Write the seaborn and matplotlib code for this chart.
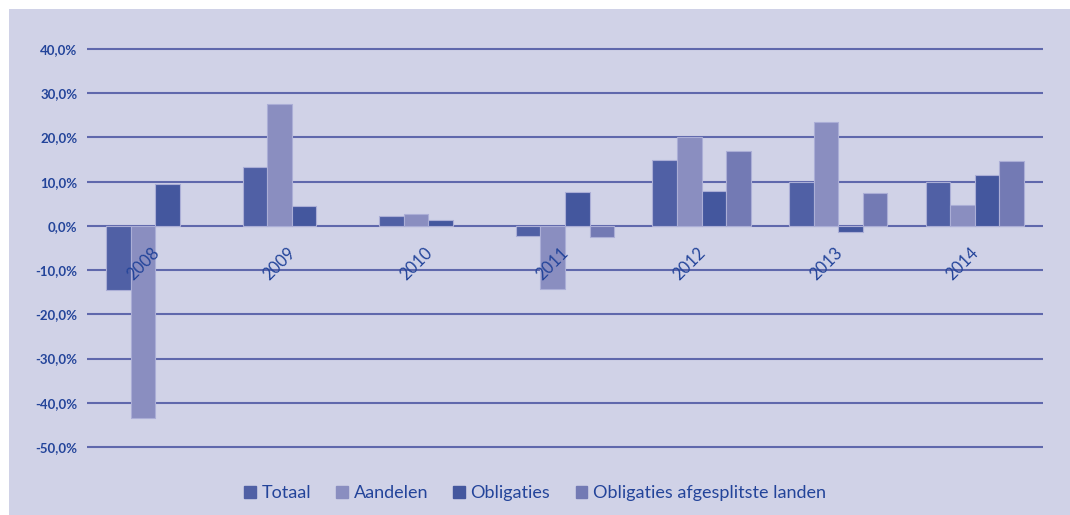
import matplotlib
matplotlib.use("Agg")
import matplotlib.pyplot as plt
import matplotlib.patches as mpatches
import numpy as np
import pandas as pd
import seaborn as sns

# --- Data (in %) ---
years = ["2008", "2009", "2010", "2011", "2012", "2013", "2014"]
series = ["Totaal", "Aandelen", "Obligaties", "Obligaties afgesplitste landen"]
totaal = [-14.4, 13.4, 2.3, -2.3, 15.0, 9.9, 9.9]
aandelen = [-43.4, 27.6, 2.7, -14.2, 20.0, 23.6, 4.7]
obligaties = [9.4, 4.5, 1.4, 7.6, 8.0, -1.3, 11.5]
obligaties_afg = [np.nan, np.nan, np.nan, -2.6, 16.9, 7.5, 14.6]

colors = ["#5060A5", "#8A8EC0", "#44579E", "#737AB4"]
panel = "#D0D2E7"
grid_col = "#5F68AC"
text_col = "#23449A"

df = pd.DataFrame({"Jaar": years, "Totaal": totaal, "Aandelen": aandelen,
                   "Obligaties": obligaties,
                   "Obligaties afgesplitste landen": obligaties_afg})
long_df = df.melt(id_vars="Jaar", var_name="Reeks", value_name="Rendement")

plt.rcParams["font.family"] = ["Lato", "DejaVu Sans"]

fig = plt.figure(figsize=(10.7, 5.15), dpi=100, facecolor="white")
# background panel
fig.add_artist(mpatches.Rectangle((9 / 1070, 0), 1 - 9 / 1070, 1 - 9 / 515,
                                  transform=fig.transFigure, facecolor=panel,
                                  linewidth=0, zorder=-10))
ax = fig.add_axes([87 / 1070, 0.1278, (1043 - 87) / 1070, 0.7813])
ax.set_zorder(1)
ax.set_facecolor(panel)

sns.barplot(data=long_df, x="Jaar", y="Rendement", hue="Reeks",
            hue_order=series, palette=colors, width=0.72, saturation=1,
            edgecolor="#ABAED6", linewidth=0.8, ax=ax, zorder=3)

ax.set_ylim(-50.5, 40.5)
ax.set_xlim(-0.5, len(years) - 0.5)
yt = np.arange(-50, 41, 10)
ax.set_yticks(yt)
ax.set_yticklabels([f"{v:.1f}%".replace(".", ",") for v in yt],
                   color=text_col, fontsize=9.5, fontweight="bold")
ax.tick_params(axis="y", length=0, pad=7)
for v in yt:
    ax.axhline(v, color=grid_col, lw=1.5, zorder=1)

ax.set_xticks([])
ax.set_xlabel("")
ax.set_ylabel("")
for i, yr in enumerate(years):
    ax.text(i - 0.09, -8.5, yr, rotation=45, ha="center", va="center",
            color=text_col, fontsize=12, zorder=5)

for s in ax.spines.values():
    s.set_visible(False)

ax.get_legend().remove()
handles = [mpatches.Patch(color=c, label=s) for c, s in zip(colors, series)]
fig.legend(handles=handles, loc="center", bbox_to_anchor=(0.5, 1 - 493 / 515),
           ncol=4, frameon=False, fontsize=13, handlelength=0.65,
           handleheight=0.65, handletextpad=0.3, columnspacing=1.4,
           labelcolor=text_col)

fig.savefig("out.png", dpi=100, facecolor="white")
